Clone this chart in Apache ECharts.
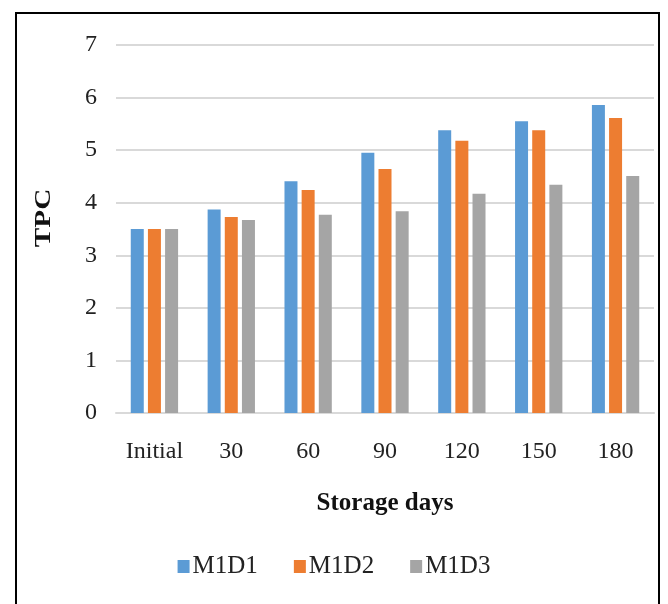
<!DOCTYPE html>
<html>
<head>
<meta charset="utf-8">
<script src="https://cdn.jsdelivr.net/npm/echarts@6/dist/echarts.min.js"></script>
<style>
html,body{margin:0;padding:0;background:#fff;}
#c{width:668px;height:604px;}
</style>
</head>
<body>
<div id="c"></div>
<script>
const categories = ['Initial', '30', '60', '90', '120', '150', '180'];
const m1d1 = [3.50, 3.87, 4.41, 4.95, 5.38, 5.55, 5.86];
const m1d2 = [3.50, 3.73, 4.24, 4.64, 5.18, 5.38, 5.61];
const m1d3 = [3.50, 3.67, 3.77, 3.84, 4.17, 4.34, 4.51];
const seriesNames = ['M1D1', 'M1D2', 'M1D3'];
const colors = ['#5B9BD5', '#ED7D31', '#A5A5A5'];
const yTitle = 'TPC';
const xTitle = 'Storage days';

const font = '"Liberation Serif", "Times New Roman", serif';
const chart = echarts.init(document.getElementById('c'), null, {renderer: 'canvas'});
const data = [m1d1, m1d2, m1d3];
chart.setOption({
  animation: false,
  backgroundColor: '#fff',
  grid: {left: 116, right: 14, top: 45, bottom: 191},
  legend: {
    data: seriesNames,
    bottom: 20,
    left: 'center',
    itemWidth: 12,
    itemHeight: 13,
    itemGap: 36,
    icon: 'rect',
    textStyle: {fontFamily: font, fontSize: 25, color: '#222', padding: [0, 0, 0, -2]}
  },
  xAxis: {
    type: 'category',
    data: categories,
    name: xTitle,
    nameLocation: 'middle',
    nameGap: 78,
    nameTextStyle: {fontFamily: font, fontSize: 25, fontWeight: 'bold', color: '#111'},
    axisLine: {lineStyle: {color: '#D9D9D9', width: 2}},
    axisTick: {show: false},
    axisLabel: {fontFamily: font, fontSize: 24, color: '#222', margin: 27}
  },
  yAxis: {
    type: 'value',
    min: 0, max: 7, interval: 1,
    axisLine: {show: false},
    axisTick: {show: false},
    axisLabel: {fontFamily: font, fontSize: 24, color: '#222', margin: 19},
    splitLine: {lineStyle: {color: '#D9D9D9', width: 2}}
  },
  series: seriesNames.map((n, i) => ({
    name: n,
    type: 'bar',
    data: data[i],
    barWidth: 13,
    barGap: '32%',
    itemStyle: {color: colors[i]}
  })),
  graphic: [{
    type: 'polyline',
    shape: {points: [[16, 604], [16, 13], [659, 13], [659, 604]]},
    style: {stroke: '#000', lineWidth: 2, fill: null},
    silent: true
  }, {
    type: 'text',
    x: 44, y: 218,
    rotation: Math.PI / 2,
    scaleX: 1.22,
    style: {
      text: yTitle,
      font: 'bold 24px ' + font,
      fill: '#111',
      align: 'center',
      verticalAlign: 'middle'
    },
    silent: true
  }]
});
</script>
</body>
</html>
